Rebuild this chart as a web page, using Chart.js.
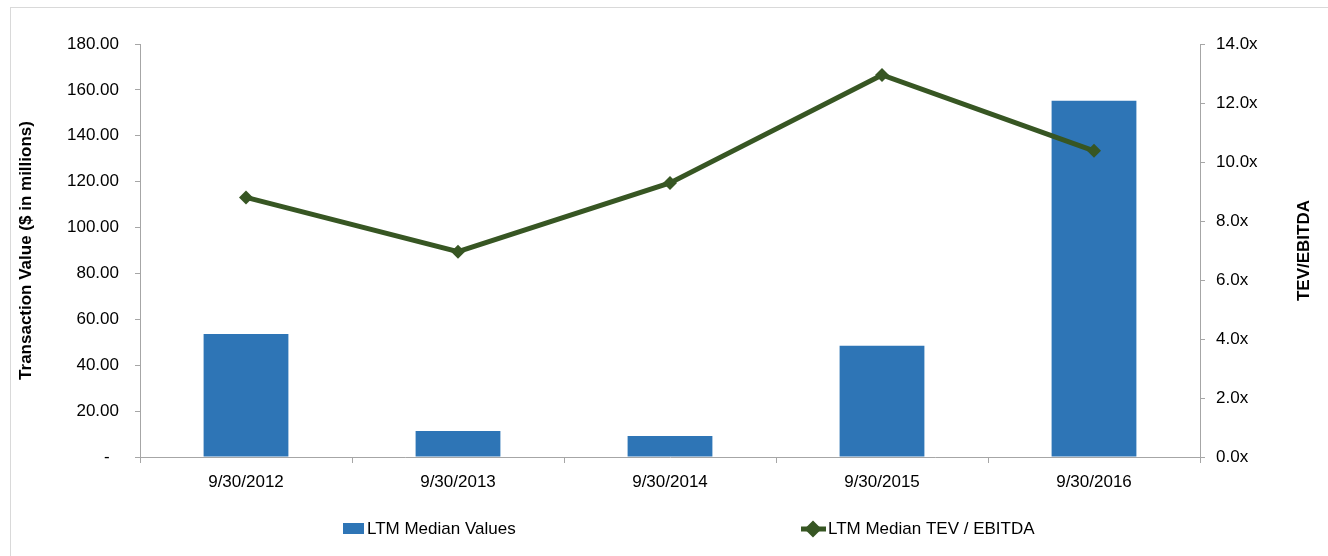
<!DOCTYPE html>
<html>
<head>
<meta charset="utf-8">
<script src="https://cdn.jsdelivr.net/npm/chart.js@4/dist/chart.umd.min.js"></script>
<style>
    html, body { margin: 0; padding: 0; background: #fff; }
    #wrap { position: relative; width: 1328px; height: 556px; overflow: hidden; }
    #frame { position: absolute; left: 10px; top: 7px; width: 1400px; height: 600px; border: 1px solid #D9D9D9; }
    #chart { position: absolute; left: 0; top: 0; }
</style>
</head>
<body>
<div id="wrap">
    <div id="frame"></div>
    <canvas id="chart" width="1328" height="556"></canvas>
</div>
<script>
// Chart data
const categories = ['9/30/2012', '9/30/2013', '9/30/2014', '9/30/2015', '9/30/2016'];
const medianValues = [53.6, 11.3, 9.2, 48.5, 155.3];
const medianTevEbitda = [8.8, 6.96, 9.29, 12.95, 10.38];
const leftTicks = [0, 20, 40, 60, 80, 100, 120, 140, 160, 180];
const rightTicks = [0, 2, 4, 6, 8, 10, 12, 14];

const FONT = "'Liberation Sans Narrow', 'Liberation Sans', Arial, sans-serif";
const AXIS_COLOR = '#A6A6A6';
const BAR_COLOR = '#2E75B6';
const LINE_COLOR = '#375623';

// Axis titles and legend drawn in Excel-like positions
const decorPlugin = {
    id: 'decor',
    afterDraw(chart) {
        const ctx = chart.ctx;
        const area = chart.chartArea;
        const midY = (area.top + area.bottom) / 2;
        ctx.save();
        ctx.fillStyle = '#000';
        ctx.font = 'bold 17px ' + FONT;
        ctx.textAlign = 'center';
        ctx.textBaseline = 'middle';

        ctx.save();
        ctx.translate(26, midY);
        ctx.rotate(-Math.PI / 2);
        ctx.fillText('Transaction Value ($ in millions)', 0, 0);
        ctx.restore();

        ctx.save();
        ctx.translate(1304, midY);
        ctx.rotate(-Math.PI / 2);
        ctx.fillText('TEV/EBITDA', 0, 0);
        ctx.restore();

        // legend
        const ly = 529;
        const bars = chart.data.datasets[0];
        const line = chart.data.datasets[1];
        ctx.font = '17px ' + FONT;
        ctx.textAlign = 'left';
        ctx.fillStyle = bars.backgroundColor;
        ctx.fillRect(343, ly - 6, 21, 11);
        ctx.fillStyle = '#000';
        ctx.fillText(bars.label, 367, ly);

        ctx.strokeStyle = line.borderColor;
        ctx.lineWidth = 5;
        ctx.beginPath();
        ctx.moveTo(801, ly);
        ctx.lineTo(826, ly);
        ctx.stroke();
        Chart.helpers.drawPoint(ctx, {
            pointStyle: 'rectRot', radius: 5, rotation: 0, borderWidth: 1
        }, 813, ly);
        ctx.fillStyle = line.borderColor;
        ctx.fill();
        ctx.fillStyle = '#000';
        ctx.fillText(line.label, 828, ly);
        ctx.restore();
    }
};

new Chart(document.getElementById('chart'), {
    type: 'bar',
    data: {
        labels: categories,
        datasets: [{
            type: 'bar',
            label: 'LTM Median Values',
            data: medianValues,
            backgroundColor: BAR_COLOR,
            borderWidth: 0,
            barPercentage: 0.4,
            categoryPercentage: 1.0,
            yAxisID: 'y',
            order: 1
        }, {
            type: 'line',
            label: 'LTM Median TEV / EBITDA',
            data: medianTevEbitda,
            borderColor: LINE_COLOR,
            backgroundColor: LINE_COLOR,
            borderWidth: 5,
            tension: 0,
            pointStyle: 'rectRot',
            pointRadius: 7,
            pointBorderWidth: 0,
            pointBackgroundColor: LINE_COLOR,
            yAxisID: 'y1',
            order: 0
        }]
    },
    options: {
        responsive: false,
        animation: false,
        layout: { padding: { top: 44, left: 0, right: 0, bottom: 0 } },
        plugins: {
            legend: { display: false },
            tooltip: { enabled: false }
        },
        scales: {
            x: {
                offset: true,
                grid: {
                    display: true,
                    drawOnChartArea: false,
                    drawTicks: true,
                    tickLength: 6,
                    color: AXIS_COLOR,
                    offset: true
                },
                border: { color: AXIS_COLOR },
                ticks: { color: '#000', padding: 9, font: { family: FONT, size: 17 } },
                afterFit(scale) { scale.height = 99; }
            },
            y: {
                position: 'left',
                min: 0,
                max: 180,
                afterBuildTicks(scale) { scale.ticks = leftTicks.map(v => ({ value: v })); },
                grid: { drawOnChartArea: false, tickLength: 5, color: AXIS_COLOR },
                border: { color: AXIS_COLOR },
                ticks: {
                    color: '#000',
                    padding: 16,
                    font: { family: FONT, size: 17 },
                    callback: v => v === 0 ? '-  ' : v.toFixed(2)
                },
                afterFit(scale) { scale.width = 140; }
            },
            y1: {
                position: 'right',
                min: 0,
                max: 14,
                afterBuildTicks(scale) { scale.ticks = rightTicks.map(v => ({ value: v })); },
                grid: { drawOnChartArea: false, tickLength: 5, color: AXIS_COLOR },
                border: { color: AXIS_COLOR },
                ticks: {
                    color: '#000',
                    padding: 11,
                    font: { family: FONT, size: 17 },
                    callback: v => v.toFixed(1) + 'x'
                },
                afterFit(scale) { scale.width = 128; }
            }
        }
    },
    plugins: [decorPlugin]
});
</script>
</body>
</html>
